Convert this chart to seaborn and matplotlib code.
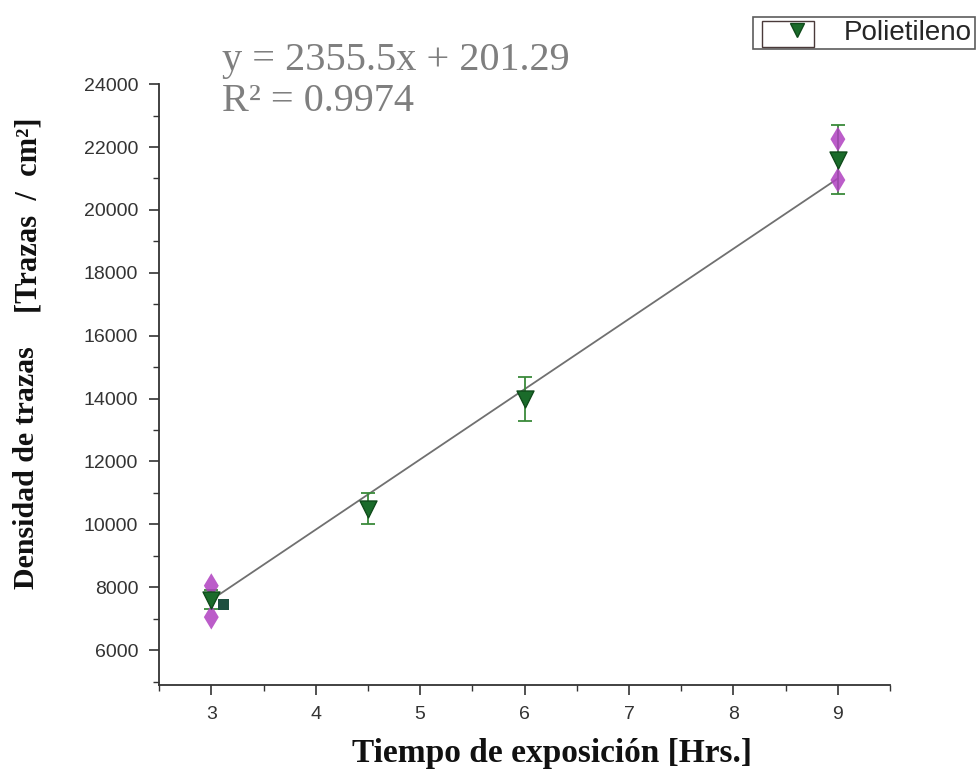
import matplotlib
matplotlib.use("Agg")
import matplotlib.pyplot as plt
import seaborn as sns
import pandas as pd
from matplotlib.ticker import MultipleLocator
from matplotlib.lines import Line2D
from matplotlib.patches import Rectangle

# ---- data ----
poli_x = [3.0, 4.5, 6.0, 9.0]
poli_y = [7600, 10500, 14000, 21600]
poli_err = [300, 500, 700, 1100]

mag_x = [3.0, 3.0, 9.0, 9.0]
mag_y = [8050, 7050, 22250, 20950]

dark_x = [3.12]
dark_y = [7450]

fit_x = [3.0, 9.0]
fit_y = [7600, 21000]

x_ticks = [3, 4, 5, 6, 7, 8, 9]
y_ticks = [6000, 8000, 10000, 12000, 14000, 16000, 18000, 20000, 22000, 24000]

sns.set_theme(style="white")
plt.rcParams['font.family'] = ['Liberation Sans', 'DejaVu Sans']

fig = plt.figure(figsize=(9.76, 7.79), dpi=100)
ax = fig.add_axes([0.163, 0.121, 0.749, 0.771])

df_poli = pd.DataFrame({"x": poli_x, "y": poli_y, "err": poli_err})
df_fit = pd.DataFrame({"x": fit_x, "y": fit_y})
df_mag = pd.DataFrame({"x": mag_x, "y": mag_y})

sns.lineplot(data=df_fit, x="x", y="y", ax=ax, color="#707070", linewidth=1.3, zorder=2)

ax.errorbar(df_poli["x"], df_poli["y"], yerr=df_poli["err"], fmt="none",
            ecolor="#3a8a3a", elinewidth=1.3, capsize=5, capthick=1.3, zorder=3)

sns.scatterplot(data=df_mag, x="x", y="y", ax=ax, marker="d", s=160,
                color="#b040c0", edgecolor="none", alpha=0.85, zorder=4, legend=False)

sns.scatterplot(data=df_poli, x="x", y="y", ax=ax, marker="v", s=150,
                color="#1a6b2a", edgecolor="#0f4a1a", zorder=5, legend=False)
sns.scatterplot(x=dark_x, y=dark_y, ax=ax, marker="s", s=60,
                color="#1e4f40", edgecolor="none", zorder=5, legend=False)

ax.set_xlim(2.5, 9.5)
ax.set_ylim(4900, 24000)
ax.set_xticks(x_ticks)
ax.set_yticks(y_ticks)
ax.xaxis.set_minor_locator(MultipleLocator(0.5))
ax.yaxis.set_minor_locator(MultipleLocator(1000))

for s in ["top", "right"]:
    ax.spines[s].set_visible(False)
for s in ["left", "bottom"]:
    ax.spines[s].set_color("#333333")
    ax.spines[s].set_linewidth(1.3)

ax.tick_params(axis="both", which="major", direction="out", length=7, width=1.2,
               color="#333333", labelsize=14, labelcolor="#333333",
               bottom=True, left=True, pad=8)
ax.tick_params(axis="both", which="minor", direction="out", length=4, width=1.0,
               color="#333333", bottom=True, left=True)

ax.set_xlabel("")
ax.set_ylabel("")

fig.text(0.566, 0.033, "Tiempo de exposición [Hrs.]", ha="center", va="center",
         fontsize=24, fontweight="bold", family=["Liberation Serif"], color="#111111")
fig.text(0.027, 0.40, "Densidad de trazas", ha="center", va="center", rotation=90,
         fontsize=21.5, fontweight="bold", family=["Liberation Serif"], color="#111111")
fig.text(0.030, 0.724, "[Trazas  /  cm²]", ha="center", va="center", rotation=90,
         fontsize=22, fontweight="bold", family=["Liberation Serif"], color="#111111")

fig.text(0.227, 0.922, "y = 2355.5x + 201.29", ha="left", va="center",
         fontsize=29, family=["Liberation Serif"], color="#7f7f7f")
fig.text(0.227, 0.870, "R² = 0.9974", ha="left", va="center",
         fontsize=29, family=["Liberation Serif"], color="#7f7f7f")

handle = Line2D([], [], marker="v", color="none", markerfacecolor="#1a6b2a",
                markeredgecolor="#0f4a1a", markersize=10, linestyle="none")
leg = fig.legend([handle], ["Polietileno"], loc="upper right",
                 bbox_to_anchor=(0.999, 0.978), frameon=True, fancybox=False,
                 edgecolor="#333333", fontsize=20, handlelength=3.0,
                 borderpad=0.1, handletextpad=0.2, borderaxespad=0)
leg.get_frame().set_linewidth(1.2)

# inner box around the legend symbol
inner = Rectangle((762 / 976, 1 - 47 / 779), 52 / 976, 26 / 779,
                  transform=fig.transFigure, fill=False,
                  edgecolor="#4a3a3a", linewidth=1.0, zorder=10)
fig.add_artist(inner)

fig.savefig("out.png", dpi=100)
